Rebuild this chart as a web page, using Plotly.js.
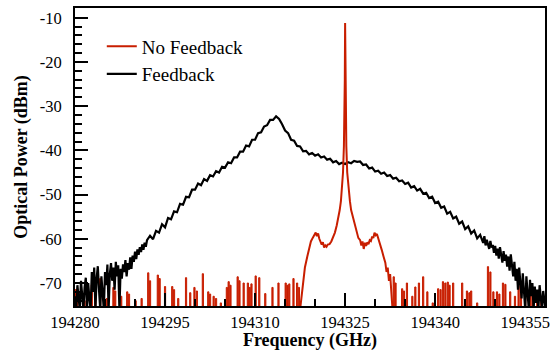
<!DOCTYPE html>
<html>
<head>
<meta charset="utf-8">
<script src="https://cdn.plot.ly/plotly-3.0.1.min.js"></script>
<style>html,body{margin:0;padding:0;background:#fff;}</style>
</head>
<body>
<div id="chart" style="width:555px;height:351px;"></div>
<script>
// ---- Feedback (black) spectrum ----
var blackFreq = [
194280,194280.2,194280.4,194280.6,194280.8,194281,194281.2,194281.4,194281.6,194281.8,
194282,194282.2,194282.4,194282.6,194282.8,194283,194283.2,194283.4,194283.6,194283.8,
194284,194284.2,194284.4,194284.6,194284.8,194285,194285.2,194285.4,194285.6,194285.8,
194286,194286.2,194286.4,194286.6,194286.8,194287,194287.2,194287.4,194287.6,194287.8,
194288,194288.2,194288.4,194288.6,194288.8,194289,194289.2,194289.4,194289.6,194289.8,
194290,194290.2,194290.4,194290.6,194290.8,194291,194291.2,194291.4,194291.6,194291.8,194292,
194292.5,194293,194293.5,194294,194294.5,194295,194295.5,194296,194296.5,194297,194297.5,194298,194298.5,194299,194299.5,
194300,194300.5,194301,194301.5,194302,194302.5,194303,194303.5,194304,194304.5,194305,194305.5,194306,194306.5,194307,194307.5,
194308,194308.5,194309,194309.5,194310,194310.5,194311,194311.5,194312,194312.5,194313,194313.5,194314,194314.5,194315,194315.5,
194316,194316.5,194317,194317.5,194318,194318.5,194319,194319.5,194320,194320.5,194321,194321.5,194322,194322.5,194323,194323.5,
194324,194324.5,194325,194325.5,194326,194326.5,194327,194327.5,194328,194328.5,194329,194329.5,194330,194330.5,194331,194331.5,
194332,194332.5,194333,194333.5,194334,194334.5,194335,194335.5,194336,194336.5,194337,194337.5,194338,194338.5,194339,194339.5,
194340,194340.5,194341,194341.5,194342,194342.5,194343,194343.5,194344,194344.5,194345,194345.5,194346,194346.5,194347,194347.5,194348,
194348.2,194348.4,194348.6,194348.8,194349,194349.2,194349.4,194349.6,194349.8,
194350,194350.2,194350.4,194350.6,194350.8,194351,194351.2,194351.4,194351.6,194351.8,
194352,194352.2,194352.4,194352.6,194352.8,194353,194353.2,194353.4,194353.6,194353.8,
194354,194354.2,194354.4,194354.6,194354.8,194355,194355.2,194355.4,194355.6,194355.8,
194356,194356.2,194356.4,194356.6,194356.8,194357,194357.2,194357.4,194357.6,194357.8,
194358,194358.2,194358.4
];
var blackPower = [
-73,-76,-70.5,-74,-76,-69.5,-72,-76,-71,-68.8,
-76,-70,-73.5,-76,-67.5,-72,-66.5,-76,-69,-66.2,
-71.5,-76,-68.5,-73,-76,-67.5,-70.5,-65.8,-76,-68,
-65.5,-69.5,-66.5,-71.5,-65.2,-68.5,-66,-76,-66.8,-69,
-65.8,-67.5,-64.8,-68.5,-65.5,-67,-64.2,-66.8,-63.8,-65.2,
-62.9,-64.6,-62.4,-63.6,-61.9,-63,-61.3,-62.5,-60.9,-61.8,-60.3,
-59.3,-60.1,-58.2,-58.6,-56.7,-57.4,-55.3,-55.6,-53.8,-54.0,-52.1,-52.3,-50.5,-50.6,-48.9,
-48.9,-47.5,-47.9,-46.5,-46.9,-45.6,-45.9,-44.7,-45.0,-43.7,-43.9,-42.7,-42.9,-41.6,-41.6,-40.3,
-40.3,-38.9,-39.1,-37.6,-37.6,-36.1,-35.9,-34.6,-34.3,-33.1,-33.1,-32.3,-32.9,-34.1,-35.5,-36.1,
-37.6,-37.8,-39.0,-39.1,-40.2,-40.1,-40.9,-40.6,-41.2,-40.9,-41.6,-41.4,-42.1,-41.9,-42.7,-42.4,
-43.1,-42.8,-43.1,-42.7,-42.9,-42.4,-42.6,-42.5,-43.3,-43.2,-44.1,-43.9,-44.8,-44.6,-45.3,-45.0,
-45.8,-45.6,-46.4,-46.2,-47.0,-46.8,-47.6,-47.3,-48.4,-48.1,-49.1,-48.7,-49.8,-49.6,-50.8,-50.5,
-51.9,-51.6,-53.0,-52.7,-54.3,-53.9,-55.4,-55.0,-56.6,-56.1,-57.8,-57.2,-58.8,-58.1,-59.9,-59.1,-60.9,
-59.4,-61.5,-60.2,-61.0,-62.3,-60.5,-62.0,-61.4,-63.2,
-61.6,-63.8,-62.2,-64.5,-61.9,-64.0,-65.4,-62.8,-65.0,-63.6,
-66.3,-64.0,-67.2,-63.5,-66.0,-68.5,-65.2,-69.5,-66.8,-71.5,
-66.5,-70.0,-73.5,-67.8,-72.0,-76,-68.5,-71.5,-76,-69.3,
-73.0,-70.0,-76,-70.8,-74.5,-71.5,-76,-70.5,-73.8,-76,
-71.8,-75,-76
];

// ---- No Feedback (red): central laser line ----
var redFreq = [
194317.5,194317.8,194318.0,194318.3,194318.7,194319.0,194319.3,194319.6,194319.9,194320.1,194320.3,194320.5,
194320.7,194320.9,194321.1,194321.3,194321.5,194321.7,194321.9,194322.1,194322.4,194322.7,194323.0,194323.3,
194323.6,194323.9,194324.1,194324.3,194324.5,194324.65,194324.8,194324.9,194324.95,194325.0,194325.05,194325.1,
194325.2,194325.35,194325.55,194325.8,194326.0,194326.3,194326.6,194326.9,194327.2,194327.5,194327.7,194327.9,
194328.1,194328.3,194328.5,194328.7,194328.9,194329.1,194329.3,194329.5,194329.7,194329.9,194330.1,194330.3,
194330.5,194330.8,194331.1,194331.4,194331.7,194331.9,194332.1,194332.3,194332.5,194332.7,194332.9
];
var redPower = [
-76,-72,-69.3,-66.5,-64,-62,-60.6,-59.8,-59.2,-58.6,-59.4,-58.8,
-60.0,-60.6,-61.3,-60.8,-62.0,-61.5,-61.8,-61.3,-61.2,-60.6,-59.5,-58.6,
-57.0,-55.3,-53.5,-51.5,-48.5,-45,-39,-31,-24,-11.2,-24,-31,
-39,-45,-48.5,-51.5,-53.5,-55,-57,-58.5,-59.8,-60.3,-61.5,-60.6,
-62.3,-60.9,-61.6,-60.8,-61.2,-60.3,-60.5,-59.5,-59.8,-58.6,-59.2,-58.9,
-59.8,-60.7,-62.5,-64.0,-65.4,-67.5,-66.5,-69.5,-68,-72,-76
];

// ---- No Feedback (red): noise-floor spikes (start, end, level) ----
var redNoiseStart = [
194280.0,194280.7,194281.5,194282.7,194283.3,194284.1,194285.2,194286.3,194286.6,194287.6,194288.6,194288.9,
194290.0,194291.0,194292.1,194292.4,194293.7,194294.0,194294.9,194296.1,194296.4,194297.1,194298.4,194299.1,
194299.8,194300.2,194301.2,194302.1,194302.4,194303.0,194303.4,194304.2,194305.2,194305.5,194305.8,194307.0,
194307.3,194308.0,194308.7,194309.0,194309.3,194310.0,194310.6,194311.6,194312.8,194313.8,194315.0,194315.3,
194315.6,194316.3,194316.9,194317.2,
194333.0,194333.3,194334.4,194334.7,194335.2,194336.1,194336.6,194337.2,194337.9,194338.6,194339.5,194340.4,
194340.8,194341.2,194341.6,194342.0,194342.3,194342.9,194344.4,194345.2,194345.6,194345.9,194346.9,194348.7,
194349.1,194349.6,194350.2,194350.6,194351.2,194351.6,194352.4,194353.2,194353.8,194354.2,194354.9,194355.7,
194356.1,194356.9,194357.6
];
var redNoiseEnd = [
194280.4,194280.9,194281.7,194282.9,194283.5,194284.3,194285.4,194286.5,194286.8,194287.8,194288.8,194289.1,
194290.2,194291.2,194292.3,194292.6,194293.9,194294.2,194295.1,194296.3,194296.6,194297.3,194298.6,194299.3,
194300.0,194300.4,194301.4,194302.3,194302.6,194303.2,194303.6,194304.4,194305.4,194305.7,194306.0,194307.2,
194307.5,194308.2,194308.9,194309.2,194309.5,194310.2,194310.8,194311.8,194313.0,194314.0,194315.2,194315.5,
194315.8,194316.5,194317.1,194317.4,
194333.2,194333.5,194334.6,194334.9,194335.4,194336.3,194336.8,194337.4,194338.1,194338.8,194339.7,194340.6,
194341.0,194341.4,194341.8,194342.2,194342.5,194343.1,194344.6,194345.4,194345.8,194346.1,194347.1,194348.9,
194349.3,194349.8,194350.4,194350.8,194351.4,194351.8,194352.6,194353.4,194354.0,194354.4,194355.1,194355.9,
194356.3,194357.1,194357.8
];
var redNoiseLevel = [
-71.5,-73,-74,-70.4,-72,-69,-73.5,-71,-71.8,-73,-72,-72.5,
-74,-73.5,-67.7,-69.5,-68.2,-69,-70.8,-70.8,-71.5,-73.5,-68.8,-72.2,
-71,-71.8,-67.9,-72,-72.5,-73,-73.5,-74.5,-71,-69.7,-70.5,-68.6,
-69.5,-70,-70,-71,-70.2,-68.4,-68.8,-72.4,-71,-70,-70,-70.5,
-70.2,-69,-70,-71,
-68.6,-70,-71.3,-71.8,-70,-73,-70.9,-70,-68.6,-72,-74.5,-71.3,
-71.5,-69.7,-70,-69.8,-70.5,-70,-70,-71.8,-72.2,-71.8,-74.5,-66.3,
-67.5,-72,-72,-72.5,-70,-70.3,-72,-73,-70.5,-71,-72,-71.5,
-72,-72,-73.5
];
var noiseFloor = -80; // below the displayed range

// ---- axes ----
var xTickVals = [194280,194295,194310,194325,194340,194355];
var xTickText = ['194280','194295','194310','194325','194340','194355'];
var yTickVals = [-70,-60,-50,-40,-30,-20,-10];
var yTickText = ['-70','-60','-50','-40','-30','-20','-10'];

var RED = '#c81e00';
var FONT = '"Times New Roman", Times, serif';

var spikeCenter = redNoiseStart.map(function(s, i){ return (s + redNoiseEnd[i]) / 2; });
var spikeWidth = redNoiseStart.map(function(s, i){ return redNoiseEnd[i] - s; });
var spikeHeight = redNoiseLevel.map(function(v){ return v - noiseFloor; });

var traces = [
  {type: 'bar', x: spikeCenter, y: spikeHeight, base: noiseFloor, width: spikeWidth,
   name: 'No Feedback', showlegend: false,
   marker: {color: RED, line: {color: RED, width: 1}}},
  {x: blackFreq, y: blackPower, mode: 'lines', name: 'Feedback', legendrank: 2,
   line: {color: '#000000', width: 2.2}},
  {x: redFreq, y: redPower, mode: 'lines', name: 'No Feedback', legendrank: 1,
   line: {color: RED, width: 2}}
];

var axisCommon = {
  ticks: 'inside', tickwidth: 2, tickcolor: '#000', ticklen: 13,
  showline: true, linewidth: 2, linecolor: '#000', mirror: true,
  showgrid: false, zeroline: false,
  tickfont: {family: FONT, size: 16.5, color: '#000', weight: 'normal'}
};

var layout = {
  width: 555, height: 351,
  font: {family: FONT, size: 16, color: '#000'},
  margin: {l: 75, r: 10, t: 8, b: 45},
  paper_bgcolor: '#fff', plot_bgcolor: '#fff',
  barmode: 'overlay',
  showlegend: true,
  legend: {x: 0.057, y: 0.935, xanchor: 'left', yanchor: 'top',
    font: {family: FONT, size: 19, color: '#000', weight: 'normal'}, bgcolor: 'rgba(0,0,0,0)', tracegroupgap: 0},
  xaxis: Object.assign({}, axisCommon, {
    range: [194280, 194358.3], tickmode: 'array', tickvals: xTickVals, ticktext: xTickText,
    minor: {tickmode: 'linear', tick0: 194280, dtick: 5, ticks: 'inside', ticklen: 7, tickwidth: 2, tickcolor: '#000', showgrid: false},
    title: {text: 'Frequency (GHz)', font: {family: FONT, size: 18, color: '#000', weight: 'bold'}, standoff: 4}
  }),
  yaxis: Object.assign({}, axisCommon, {
    range: [-75.2, -7.8], tickmode: 'array', tickvals: yTickVals, ticktext: yTickText,
    minor: {tickmode: 'linear', tick0: -10, dtick: 2, ticks: 'inside', ticklen: 7, tickwidth: 2, tickcolor: '#000', showgrid: false},
    ticklabelstandoff: 8,
    title: {text: 'Optical Power (dBm)', font: {family: FONT, size: 18, color: '#000', weight: 'bold'}, standoff: 7}
  })
};

Plotly.newPlot('chart', traces, layout, {staticPlot: true, displayModeBar: false});
</script>
</body>
</html>
